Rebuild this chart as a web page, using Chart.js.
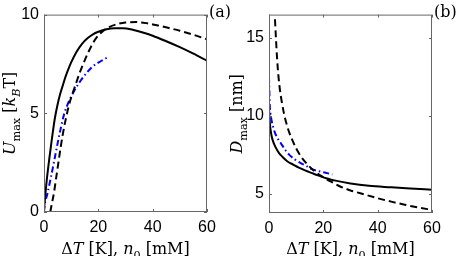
<!DOCTYPE html>
<html>
<head>
<meta charset="utf-8">
<script src="https://cdn.jsdelivr.net/npm/chart.js@4"></script>
<style>
html, body { margin: 0; padding: 0; background: #fff; }
canvas { position: absolute; top: 0; }
#chartA { left: 0; }
#chartB { left: 228px; }
</style>
</head>
<body>
<canvas id="chartA" width="236" height="256"></canvas>
<canvas id="chartB" width="229" height="256"></canvas>
<script>
const xTicks = [0, 20, 40, 60];
const aYTicks = [0, 5, 10];
const bYTicks = [5, 10, 15];

// panel (a): U_max
const aSolidX = [0, 0.5, 1, 2, 3, 4, 5, 6, 7, 8, 9, 10, 12, 14, 16, 18, 20, 23, 26, 29, 33, 37, 40, 45, 50, 55, 60];
const aSolidY = [0.1, 0.9, 1.6, 2.75, 3.8, 4.75, 5.45, 6.0, 6.45, 6.88, 7.25, 7.58, 8.12, 8.52, 8.8, 9.0, 9.13, 9.26, 9.31, 9.31, 9.22, 9.07, 8.93, 8.65, 8.35, 8.02, 7.67];
const aDashX = [2.3, 3, 3.7, 4.5, 5.3, 6.1, 7, 8, 9, 10, 11, 12, 13, 14, 16, 18, 20, 22, 24, 27, 30, 34, 38, 42, 46, 50, 55, 60];
const aDashY = [0, 0.5, 1.0, 1.75, 2.5, 3.25, 4.0, 4.7, 5.3, 5.8, 6.2, 6.6, 7.0, 7.35, 8.0, 8.55, 8.95, 9.2, 9.37, 9.52, 9.6, 9.62, 9.56, 9.45, 9.32, 9.18, 8.98, 8.75];
const aDotX = [0, 0.3, 1.2, 2.45, 3.7, 4.9, 6.1, 7.5, 9, 10.8, 13.2, 15.7, 18, 21, 24];
const aDotY = [0, 0.4, 0.9, 1.7, 2.55, 3.4, 4.2, 5.0, 5.55, 6.05, 6.6, 7.05, 7.38, 7.65, 7.88];

// panel (b): D_max
const bSolidX = [0, 0.2, 0.5, 0.9, 1.5, 2.5, 3.7, 5, 6.7, 9, 11, 13.5, 15.6, 18, 21.7, 24.5, 30, 36.8, 45, 52, 60];
const bSolidY = [10.5, 9.8, 9.2, 8.75, 8.35, 7.95, 7.6, 7.35, 7.08, 6.85, 6.66, 6.47, 6.33, 6.17, 5.95, 5.83, 5.65, 5.5, 5.4, 5.32, 5.25];
const bDashX = [2.2, 2.55, 3.0, 3.5, 4.0, 4.7, 5.5, 6.5, 7.5, 8.8, 10, 11.7, 14, 17, 20, 23, 26, 30, 35, 40, 45, 50, 55, 60];
const bDashY = [16.2, 15.0, 13.6, 12.5, 11.7, 10.9, 10.15, 9.45, 8.9, 8.35, 7.9, 7.4, 6.9, 6.4, 6.05, 5.75, 5.47, 5.2, 4.95, 4.7, 4.48, 4.28, 4.1, 3.95];
const bDotX = [0, 0.1, 0.25, 0.5, 0.9, 1.5, 2.1, 3, 4.3, 6, 7.4, 9.5, 11.7, 14, 16, 18, 20.5, 23.3];
const bDotY = [12.5, 11.8, 10.8, 10.2, 9.75, 9.3, 8.95, 8.6, 8.25, 7.8, 7.5, 7.2, 6.96, 6.75, 6.55, 6.45, 6.35, 6.23];

const xTitle = [{t: 'Δ'}, {t: 'T', it: 1}, {t: ' [K], '}, {t: 'n', it: 1}, {t: '0', sub: 1}, {t: ' [mM]'}];
const aTitle = [{t: 'U', it: 1}, {t: 'max', sub: 1}, {t: ' ['}, {t: 'k', it: 1}, {t: 'B', it: 1, sub: 1}, {t: 'T]'}];
const bTitle = [{t: 'D', it: 1}, {t: 'max', sub: 1}, {t: ' [nm]'}];

const serif = '"DejaVu Serif", serif';

function pts(xs, ys) {
    return xs.map((x, i) => ({x: x, y: ys[i]}));
}

function drawRich(ctx, segs, cx, cy, rot, size) {
    const fontOf = s => (s.it ? 'italic ' : '') + (s.sub ? size * 0.7 : size) + 'px ' + serif;
    let w = 0;
    segs.forEach(s => { ctx.font = fontOf(s); s.w = ctx.measureText(s.t).width; w += s.w; });
    ctx.save();
    ctx.translate(cx, cy);
    ctx.rotate(rot);
    ctx.textAlign = 'left';
    ctx.textBaseline = 'alphabetic';
    ctx.fillStyle = '#000';
    let px = -w / 2;
    segs.forEach(s => {
        ctx.font = fontOf(s);
        ctx.fillText(s.t, px, s.sub ? size * 0.3 : 0);
        px += s.w;
    });
    ctx.restore();
}

// box, inward ticks, axis titles, panel letter
const frame = {
    id: 'frame',
    afterDraw(chart, args, o) {
        const {ctx, chartArea: a, scales: {x, y}} = chart;
        ctx.save();
        ctx.strokeStyle = '#666';
        ctx.lineWidth = 1;
        ctx.strokeRect(a.left + 0.5, a.top + 0.5, a.right - a.left - 1, a.bottom - a.top - 1);
        ctx.beginPath();
        x.ticks.forEach(t => {
            const p = Math.round(x.getPixelForValue(t.value)) + 0.5;
            ctx.moveTo(p, a.bottom); ctx.lineTo(p, a.bottom - 3);
            ctx.moveTo(p, a.top); ctx.lineTo(p, a.top + 3);
        });
        y.ticks.forEach(t => {
            const p = Math.round(y.getPixelForValue(t.value)) + 0.5;
            ctx.moveTo(a.left, p); ctx.lineTo(a.left + 3, p);
            ctx.moveTo(a.right, p); ctx.lineTo(a.right - 3, p);
        });
        ctx.stroke();
        ctx.restore();
        drawRich(ctx, xTitle, (a.left + a.right) / 2, 254, 0, 16);
        drawRich(ctx, o.yTitle, o.yTitleX, (a.top + a.bottom) / 2, -Math.PI / 2, 16);
        ctx.save();
        ctx.font = '16px ' + serif;
        ctx.fillStyle = '#000';
        ctx.textBaseline = 'alphabetic';
        ctx.fillText(o.letter, a.right + 2, 17);
        ctx.restore();
    }
};

function makeChart(id, p) {
    const line = (data, color, dash) => ({
        data: data,
        borderColor: color,
        borderWidth: 2,
        borderDash: dash,
        pointRadius: 0,
        fill: false,
        cubicInterpolationMode: 'monotone'
    });
    return new Chart(document.getElementById(id), {
        type: 'line',
        data: {
            datasets: [
                line(p.solid, '#000', []),
                line(p.dash, '#000', [7, 4]),
                line(p.dot, '#0000ff', [6, 3, 1.5, 3])
            ]
        },
        options: {
            responsive: false,
            animation: false,
            layout: {padding: {left: 0, top: 8, right: p.right, bottom: 0}},
            plugins: {
                legend: {display: false},
                tooltip: {enabled: false},
                frame: {yTitle: p.yTitle, yTitleX: p.yTitleX, letter: p.letter}
            },
            scales: {
                x: {
                    type: 'linear', min: 0, max: 60,
                    afterBuildTicks: s => { s.ticks = xTicks.map(v => ({value: v})); },
                    afterFit: s => { s.height = p.xh; },
                    grid: {display: false, drawTicks: false},
                    border: {display: false},
                    ticks: {color: '#000', padding: 6, maxRotation: 0, font: {family: '"Liberation Sans", Arial', size: 16}}
                },
                y: {
                    min: p.ymin, max: p.ymax,
                    afterBuildTicks: s => { s.ticks = p.yTicks.map(v => ({value: v})); },
                    afterFit: s => { s.width = p.yw; },
                    grid: {display: false, drawTicks: false},
                    border: {display: false},
                    ticks: {color: '#000', padding: 5, font: {family: '"Liberation Sans", Arial', size: 16}}
                }
            }
        },
        plugins: [frame]
    });
}

makeChart('chartA', {
    solid: pts(aSolidX, aSolidY), dash: pts(aDashX, aDashY), dot: pts(aDotX, aDotY),
    ymin: 0, ymax: 10, yTicks: aYTicks, yTitle: aTitle, yTitleX: 15, letter: '(a)',
    yw: 44, xh: 44, right: 29
});
makeChart('chartB', {
    solid: pts(bSolidX, bSolidY), dash: pts(bDashX, bDashY), dot: pts(bDotX, bDotY),
    ymin: 3.75, ymax: 16.5, yTicks: bYTicks, yTitle: bTitle, yTitleX: 14, letter: '(b)',
    yw: 41, xh: 43, right: 25
});
</script>
</body>
</html>
